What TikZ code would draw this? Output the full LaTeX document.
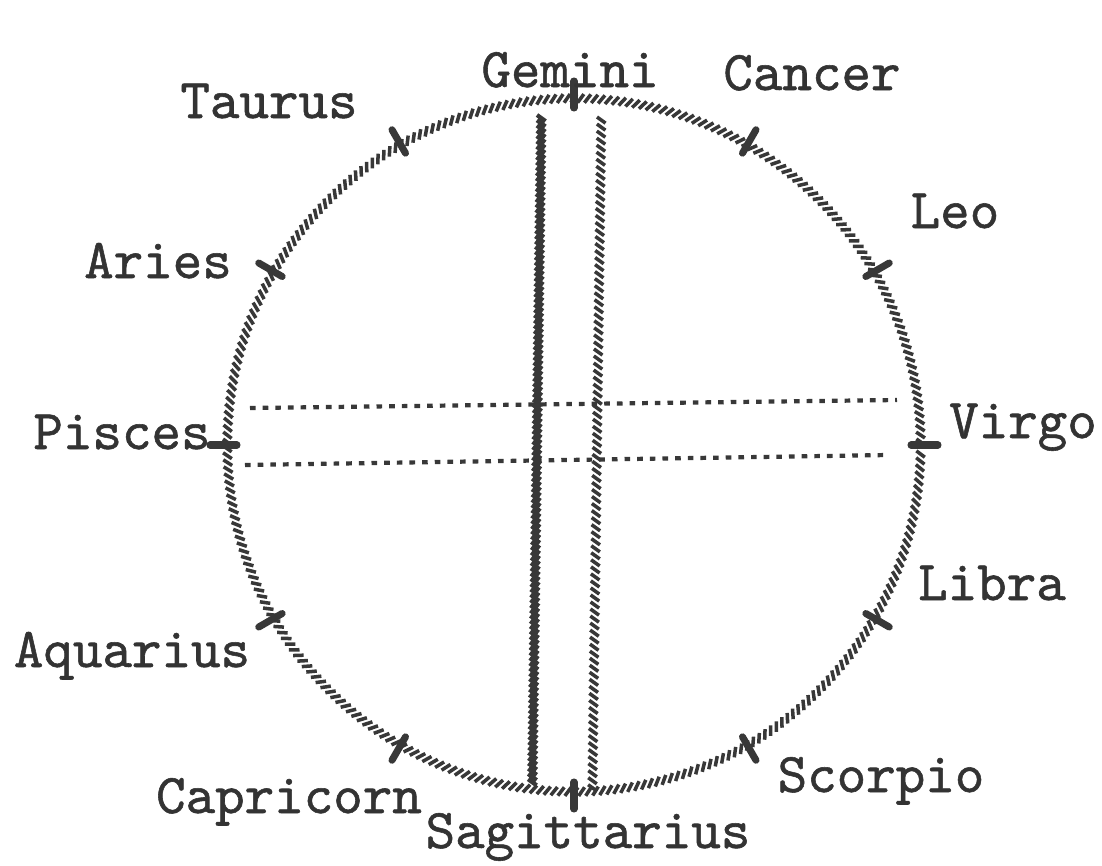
\documentclass[tikz,border=0pt]{standalone}
\usepackage{fontspec}
\newfontfamily\typefont{lmmono10-regular.otf}[FakeBold=1]
\usetikzlibrary{decorations.pathreplacing}
\colorlet{inkgray}{black!78}

\begin{document}
\begin{tikzpicture}[
    sign/.style={anchor=base, inner sep=0pt, text=black!80, font=\typefont\fontsize{16}{18}\selectfont},
    hatch/.style={draw=inkgray, line width=1pt, decorate, decoration={border, segment length=2pt, amplitude=3pt, angle=55}},
    signmark/.style={draw=inkgray, line width=2pt, line cap=round},
    dotline/.style={draw=inkgray, line width=1.2pt, dash pattern=on 1.6pt off 2pt}]
    \useasboundingbox (-5.74,-4.20) rectangle (5.28,4.45);

    \draw[hatch] (0,0) circle[radius=3.51];
    \foreach \a in {0,30,...,330} { \draw[signmark] (\a:3.37) -- (\a:3.64); }

    \draw[hatch, line width=1.2pt, segment length=1.5pt] (-0.37,3.30) -- (-0.46,-3.40);
    \draw[hatch] (0.23,3.28) -- (0.14,-3.48);
    \draw[dotline] (-3.24,0.37) -- (3.23,0.45);
    \draw[dotline] (-3.29,-0.20) -- (3.14,-0.10);

    \node[sign] (gemini) at (-0.04,3.58) {Gemini};
    \node[sign] (cancer) at (2.38,3.55) {Cancer};
    \node[sign] (taurus) at (-3.05,3.27) {Taurus};
    \node[sign] (leo) at (3.81,2.17) {Leo};
    \node[sign] (aries) at (-4.16,1.67) {Aries};
    \node[sign] (pisces) at (-4.52,-0.04) {Pisces};
    \node[sign] (virgo) at (4.49,0.07) {Virgo};
    \node[sign] (libra) at (4.18,-1.55) {Libra};
    \node[sign] (aquarius) at (-4.42,-2.22) {Aquarius};
    \node[sign] (capricorn) at (-2.85,-3.68) {Capricorn};
    \node[sign] (sagittarius) at (0.14,-4.03) {Sagittarius};
    \node[sign] (scorpio) at (3.07,-3.47) {Scorpio};
  \end{tikzpicture}
\end{document}
